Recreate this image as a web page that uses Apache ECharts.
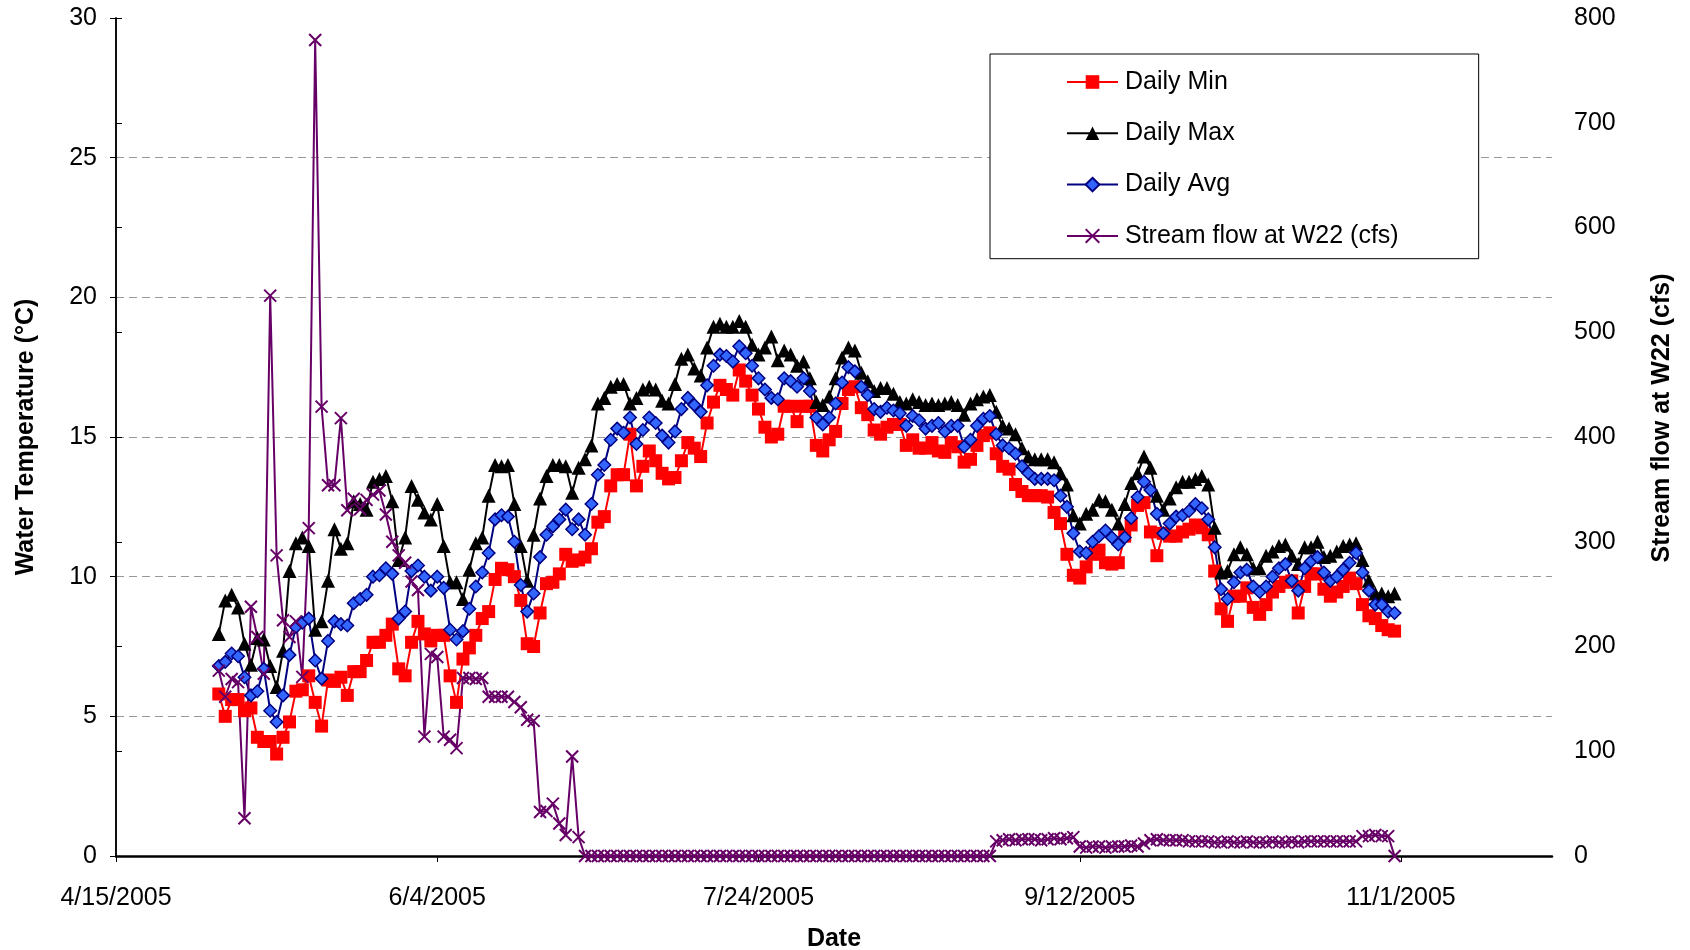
<!DOCTYPE html>
<html><head><meta charset="utf-8">
<script src="https://cdn.jsdelivr.net/npm/echarts@6/dist/echarts.min.js"></script>
<style>html,body{margin:0;padding:0;background:#fff}#c{width:1690px;height:950px}</style>
</head><body><div id="c"></div>
<script>
// Axis origin is 4/15/2005; data are daily from 5/1/2005 (day 16) to 10/31/2005
const firstDataDay = 16;
const xTickLabels = ['4/15/2005', '6/4/2005', '7/24/2005', '9/12/2005', '11/1/2005'];
const seriesNames = ['Daily Min', 'Daily Max', 'Daily Avg', 'Stream flow at W22 (cfs)'];

const dailyMin = [
 5.8, 5.0, 5.6, 5.6, 5.2, 5.3, 4.25, 4.1, 4.1, 3.65, 4.25, 4.8, 5.9, 5.95, 6.45, 5.5, 4.65, 6.3, 6.25, 6.4, 5.75, 6.6, 6.6, 7.0, 7.65, 7.65, 7.9, 8.3, 6.7, 6.45,
 7.65, 8.4, 7.95, 7.7, 7.9, 7.9, 6.45, 5.5, 7.05, 7.45, 7.9, 8.5, 8.75, 9.9, 10.3, 10.25, 10.0, 9.15, 7.6, 7.5, 8.7, 9.75, 9.8, 10.1, 10.8, 10.55, 10.6, 10.7, 11.0, 11.95,
 12.15, 13.25, 13.65, 13.65, 15.1, 13.25, 13.95, 14.5, 14.15, 13.7, 13.5, 13.55, 14.15, 14.8, 14.6, 14.3, 15.5, 16.25, 16.85, 16.7, 16.5, 17.4, 17.0, 16.5, 16.0, 15.35, 15.0, 15.1, 16.1, 16.1,
 15.55, 16.1, 16.1, 14.7, 14.5, 14.9, 15.2, 16.2, 16.7, 16.8, 16.05, 15.8, 15.25, 15.1, 15.35, 15.45, 15.45, 14.7, 14.9, 14.6, 14.6, 14.8, 14.5, 14.45, 14.8, 14.65, 14.1, 14.2, 14.7, 15.05,
 15.15, 14.4, 13.95, 13.85, 13.3, 13.05, 12.9, 12.9, 12.9, 12.85, 12.3, 11.9, 10.8, 10.05, 9.95, 10.35, 10.8, 10.95, 10.5, 10.45, 10.5, 11.45, 11.85, 12.55, 12.65, 11.6, 10.75, 11.55, 11.45, 11.45,
 11.6, 11.7, 11.85, 11.75, 11.5, 10.2, 8.85, 8.4, 9.3, 9.3, 9.6, 8.9, 8.65, 9.0, 9.45, 9.65, 9.8, 9.85, 8.7, 9.65, 10.1, 10.1, 9.55, 9.3, 9.45, 9.65, 9.95, 9.75, 9.0, 8.6,
 8.5, 8.25, 8.1, 8.05
];
const dailyMax = [
 7.95, 9.15, 9.35, 8.9, 7.6, 6.85, 7.8, 7.75, 6.8, 6.05, 7.35, 10.2, 11.2, 11.4, 11.1, 8.1, 8.4, 9.85, 11.7, 11.0, 11.2, 12.7, 12.6, 12.4, 13.4, 13.5, 13.6, 12.7, 10.6, 11.4,
 13.25, 12.75, 12.3, 12.05, 12.6, 11.1, 9.8, 9.8, 9.2, 10.25, 11.2, 11.4, 12.9, 14.0, 13.95, 14.0, 12.6, 11.1, 9.85, 11.5, 12.8, 13.6, 14.0, 14.0, 13.95, 13.0, 13.9, 14.2, 14.7, 16.2,
 16.4, 16.8, 16.9, 16.9, 16.2, 16.4, 16.7, 16.8, 16.7, 16.3, 16.2, 16.9, 17.8, 17.95, 17.45, 17.2, 18.2, 18.95, 19.05, 18.95, 18.95, 19.15, 18.95, 18.3, 17.95, 18.2, 18.6, 17.75, 18.1, 17.95,
 17.55, 17.7, 17.1, 16.25, 16.15, 16.45, 17.1, 17.85, 18.2, 18.1, 17.3, 17.0, 16.65, 16.75, 16.75, 16.55, 16.25, 16.2, 16.35, 16.25, 16.15, 16.2, 16.15, 16.2, 16.25, 16.15, 15.8, 16.2, 16.35, 16.45,
 16.5, 15.9, 15.4, 15.3, 15.1, 14.6, 14.3, 14.2, 14.2, 14.2, 14.1, 13.7, 13.3, 12.2, 11.9, 12.25, 12.4, 12.75, 12.7, 12.4, 11.9, 12.6, 13.35, 13.7, 14.3, 13.9, 12.9, 12.4, 12.8, 13.2,
 13.4, 13.4, 13.5, 13.6, 13.3, 11.75, 10.15, 10.2, 10.8, 11.05, 10.8, 10.3, 10.3, 10.75, 10.9, 11.1, 11.15, 10.75, 10.45, 11.05, 11.05, 11.25, 10.7, 10.75, 10.9, 11.1, 11.15, 11.2, 10.6, 9.85,
 9.4, 9.4, 9.3, 9.4
];
const dailyAvg = [
 6.8, 6.95, 7.25, 7.15, 6.4, 5.75, 5.9, 6.7, 5.2, 4.8, 5.75, 7.2, 8.2, 8.35, 8.5, 7.0, 6.35, 7.7, 8.4, 8.3, 8.25, 9.05, 9.2, 9.35, 10.0, 10.05, 10.3, 10.1, 8.5, 8.75,
 10.2, 10.4, 10.0, 9.5, 10.0, 9.6, 8.1, 7.75, 8.05, 8.85, 9.65, 10.15, 10.85, 12.05, 12.2, 12.15, 11.25, 9.7, 8.75, 9.4, 10.7, 11.5, 11.8, 12.05, 12.4, 11.7, 12.05, 11.5, 12.6, 13.65,
 14.0, 14.9, 15.3, 15.15, 15.7, 14.75, 15.25, 15.7, 15.5, 15.05, 14.8, 15.2, 16.0, 16.4, 16.15, 15.9, 16.85, 17.55, 17.95, 17.9, 17.7, 18.25, 18.0, 17.55, 17.1, 16.7, 16.4, 16.35, 17.1, 17.0,
 16.8, 17.1, 16.65, 15.7, 15.45, 15.7, 16.2, 16.95, 17.5, 17.35, 16.8, 16.5, 16.0, 15.9, 16.05, 15.95, 15.85, 15.4, 15.75, 15.6, 15.3, 15.4, 15.5, 15.2, 15.4, 15.4, 14.65, 14.9, 15.4, 15.65,
 15.75, 15.1, 14.7, 14.6, 14.4, 13.95, 13.7, 13.5, 13.5, 13.5, 13.45, 12.9, 12.5, 11.55, 10.9, 10.85, 11.25, 11.45, 11.65, 11.4, 11.15, 11.4, 12.1, 12.85, 13.4, 13.1, 12.25, 11.55, 11.9, 12.15,
 12.2, 12.35, 12.6, 12.45, 12.05, 11.05, 9.55, 9.2, 9.8, 10.15, 10.25, 9.65, 9.45, 9.65, 10.0, 10.3, 10.45, 9.85, 9.5, 10.3, 10.55, 10.7, 10.15, 9.85, 10.0, 10.25, 10.5, 10.85, 10.15, 9.5,
 9.0, 9.0, 8.75, 8.7
];
const streamFlow = [
 177, 152, 169, 166, 36, 238, 209, 174, 535, 287, 225, 209, 224, 171, 313, 779, 429, 354, 354, 418, 330, 341, 331, 340, 345, 349, 326, 300, 287, 280,
 262, 254, 114, 193, 190, 114, 111, 103, 170, 170, 169, 170, 152, 152, 152, 152, 147, 142, 130, 129, 42, 43, 50, 31, 20, 95, 18, 0, 0, 0,
 0, 0, 0, 0, 0, 0, 0, 0, 0, 0, 0, 0, 0, 0, 0, 0, 0, 0, 0, 0, 0, 0, 0, 0, 0, 0, 0, 0, 0, 0,
 0, 0, 0, 0, 0, 0, 0, 0, 0, 0, 0, 0, 0, 0, 0, 0, 0, 0, 0, 0, 0, 0, 0, 0, 0, 0, 0, 0, 0, 0,
 0, 14, 15, 16, 15, 16, 16, 16, 15, 16, 17, 16, 17, 18, 9, 8, 9, 9, 8, 9, 9, 9, 10, 9, 12, 15, 16, 15, 15, 15,
 15, 14, 14, 14, 14, 13, 13, 14, 13, 13, 14, 13, 13, 13, 14, 13, 13, 14, 13, 14, 14, 14, 14, 14, 14, 14, 14, 14, 19, 19,
 20, 19, 19, 0
];

const FONT = 'Arial, "Liberation Sans", sans-serif';
const dayOf = i => firstDataDay + i;
const pairs = arr => arr.map((v, i) => [dayOf(i), v]);
function fmtDay(v) {
  if (Math.abs(v % 50) > 1e-6) return '';
  return xTickLabels[Math.round(v / 50)] || '';
}

const chart = echarts.init(document.getElementById('c'), null, {renderer: 'canvas'});
const lineW = 2;
chart.setOption({
  animation: false,
  backgroundColor: '#fff',
  textStyle: {fontFamily: FONT},
  grid: {left: 116, right: 138, top: 18, bottom: 94, show: false, containLabel: false, outerBoundsMode: 'none'},
  legend: {
    orient: 'vertical', left: 990, top: 54,
    data: seriesNames,
    itemWidth: 51, itemHeight: 17, itemGap: 26.3,
    padding: [15.5, 80, 10.3, 76],
    backgroundColor: '#fff', borderColor: '#000', borderWidth: 1, borderRadius: 0,
    textStyle: {fontSize: 25, color: '#000', fontFamily: FONT, padding: [0, 0, 0, 2]}
  },
  xAxis: [{
    type: 'value', min: 0, max: 223.5, interval: 50,
    axisLine: {show: true, onZero: false, lineStyle: {color: '#000', width: 2.5}},
    axisTick: {show: true, length: 6, lineStyle: {color: '#000', width: 1}},
    axisLabel: {formatter: fmtDay, fontSize: 25, color: '#000', margin: 30, fontFamily: FONT, showMaxLabel: false},
    splitLine: {show: false},
    name: 'Date', nameLocation: 'middle', nameGap: 71,
    nameTextStyle: {fontSize: 25, fontWeight: 'bold', color: '#000', fontFamily: FONT}
  }, {
    type: 'value', min: 0, max: 223.5, position: 'top',
    axisLine: {show: true, lineStyle: {color: '#000', width: 1}},
    axisTick: {show: false}, axisLabel: {show: false}, splitLine: {show: false}
  }],
  yAxis: [{
    type: 'value', min: 0, max: 30, interval: 5, position: 'left',
    axisLine: {show: true, lineStyle: {color: '#000', width: 1.5}},
    axisTick: {show: true, length: 6, lineStyle: {color: '#000'}},
    axisLabel: {fontSize: 25, color: '#000', margin: 19, fontFamily: FONT},
    splitLine: {show: true, showMinLine: false, showMaxLine: false, lineStyle: {color: '#999', width: 1.2, type: [8, 5]}},
    name: 'Water Temperature (°C)', nameLocation: 'middle', nameRotate: 90, nameGap: 77,
    nameTextStyle: {fontSize: 25, fontWeight: 'bold', color: '#000', fontFamily: FONT}
  }, {
    type: 'value', min: 0, max: 800, interval: 100, position: 'right',
    axisLine: {show: true, lineStyle: {color: '#000', width: 1.5}},
    axisTick: {show: true, length: 6, lineStyle: {color: '#000'}},
    axisLabel: {fontSize: 25, color: '#000', margin: 22, fontFamily: FONT},
    splitLine: {show: false},
    name: 'Stream flow at W22 (cfs)', nameLocation: 'middle', nameRotate: 90, nameGap: 98,
    nameTextStyle: {fontSize: 25, fontWeight: 'bold', color: '#000', fontFamily: FONT, padding: [0, 0, 0, 38]}
  }],
  series: [{
    name: seriesNames[0], type: 'line', yAxisIndex: 0, data: pairs(dailyMin),
    symbol: 'rect', symbolSize: 13,
    itemStyle: {color: '#FF0000'}, lineStyle: {color: '#FF0000', width: lineW}
  }, {
    name: seriesNames[1], type: 'line', yAxisIndex: 0, data: pairs(dailyMax),
    symbol: 'triangle', symbolSize: 14,
    itemStyle: {color: '#000000'}, lineStyle: {color: '#000000', width: lineW}
  }, {
    name: seriesNames[2], type: 'line', yAxisIndex: 0, data: pairs(dailyAvg),
    symbol: 'diamond', symbolSize: 12.5,
    itemStyle: {color: '#3366FF', borderColor: '#000080', borderWidth: 1.5}, lineStyle: {color: '#000080', width: lineW}
  }, {
    name: seriesNames[3], type: 'line', yAxisIndex: 1, data: pairs(streamFlow),
    symbol: 'path://M0,0L10,10M10,0L0,10', symbolSize: 12,
    itemStyle: {color: '#660066', borderColor: '#660066', borderWidth: 2}, lineStyle: {color: '#660066', width: lineW}
  }]
});
</script>
</body></html>
